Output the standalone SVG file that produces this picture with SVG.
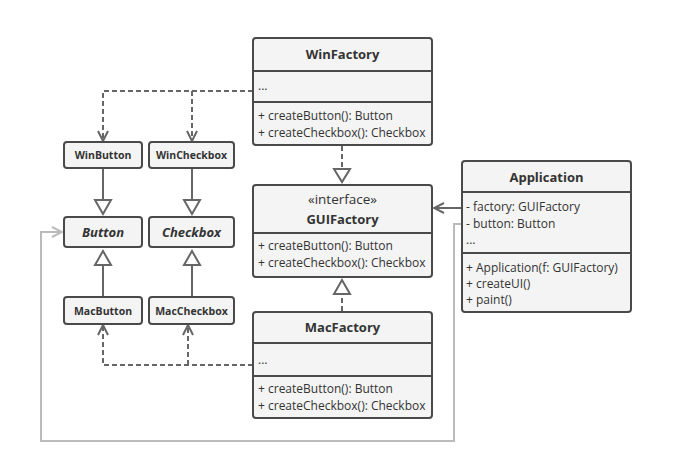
<svg xmlns="http://www.w3.org/2000/svg" width="675" height="465" viewBox="0 0 675 465">
  <style>
    .box { fill: #f4f4f4; stroke: #4a4a4a; stroke-width: 2; }
    .div { stroke: #4a4a4a; stroke-width: 2; }
    .t { font-family: "Open Sans", "Noto Sans", sans-serif; fill: #333; }
    .title { font-size: 13px; font-weight: bold; text-anchor: middle; }
    .small { font-size: 10.5px; font-weight: bold; text-anchor: middle; }
    .abs { font-size: 13px; font-weight: bold; font-style: italic; text-anchor: middle; }
    .m { font-size: 12px; }
    .st { font-size: 13.5px; text-anchor: middle; }
    .dash { fill: none; stroke: #666; stroke-width: 2; stroke-dasharray: 5 3; }
    .solid { fill: none; stroke: #666; stroke-width: 2; }
    .gray { fill: none; stroke: #bbb; stroke-width: 2; }
    .tri { fill: #fff; stroke: #666; stroke-width: 2; stroke-linejoin: miter; }
  </style>
  <defs>
    <marker id="open" viewBox="0 0 12 12" refX="11" refY="6" markerWidth="12" markerHeight="12" markerUnits="userSpaceOnUse" orient="auto">
      <path d="M1,1 L11,6 L1,11" fill="none" stroke="#666" stroke-width="2"/>
    </marker>
    <marker id="openGray" viewBox="0 0 12 12" refX="11" refY="6" markerWidth="12" markerHeight="12" markerUnits="userSpaceOnUse" orient="auto">
      <path d="M1,1 L11,6 L1,11" fill="none" stroke="#bbb" stroke-width="2"/>
    </marker>
  </defs>

  <rect width="675" height="465" fill="#fff"/>

  <!-- connectors -->
  <g id="connectors">
    <!-- WinFactory creates WinButton / WinCheckbox -->
    <path class="dash" d="M253,91 H103 V141" marker-end="url(#open)"/>
    <path class="dash" d="M192,91 V141" marker-end="url(#open)"/>
    <!-- MacFactory creates MacButton / MacCheckbox -->
    <path class="dash" d="M253,365 H103 V325" marker-end="url(#open)"/>
    <path class="dash" d="M188,365 V325" marker-end="url(#open)"/>
    <!-- product inheritance -->
    <path class="solid" d="M103,168 V200"/>
    <polygon class="tri" points="95,200 111,200 103,214"/>
    <path class="solid" d="M192,168 V200"/>
    <polygon class="tri" points="184,200 200,200 192,214"/>
    <path class="solid" d="M103,297 V265"/>
    <polygon class="tri" points="95,265 111,265 103,251"/>
    <path class="solid" d="M192,297 V265"/>
    <polygon class="tri" points="184,265 200,265 192,251"/>
    <!-- factory realization -->
    <path class="dash" d="M342,146 V169"/>
    <polygon class="tri" points="334,169 350,169 342,182"/>
    <path class="dash" d="M342,311 V294"/>
    <polygon class="tri" points="334,294 350,294 342,280"/>
    <!-- Application uses GUIFactory -->
    <path class="solid" d="M461,208 H434" marker-end="url(#open)"/>
    <!-- Application uses Button -->
    <path class="gray" d="M461,224 H454 V441 H41 V232 H62" marker-end="url(#openGray)"/>
  </g>

  <g id="WinFactory">
    <rect class="box" x="253" y="38" width="179" height="107" rx="3"/>
    <line class="div" x1="253" y1="71" x2="432" y2="71"/>
    <line class="div" x1="253" y1="102" x2="432" y2="102"/>
    <text class="t title" x="342.5" y="59">WinFactory</text>
    <text class="t m" x="258" y="90">...</text>
    <text class="t m" x="258" y="120">+ createButton(): Button</text>
    <text class="t m" x="258" y="137">+ createCheckbox(): Checkbox</text>
  </g>

  <g id="GUIFactory">
    <rect class="box" x="253" y="185" width="179" height="92" rx="3"/>
    <line class="div" x1="253" y1="233" x2="432" y2="233"/>
    <text class="t st" x="342.5" y="204">«interface»</text>
    <text class="t title" x="342.5" y="224">GUIFactory</text>
    <text class="t m" x="258" y="250">+ createButton(): Button</text>
    <text class="t m" x="258" y="267">+ createCheckbox(): Checkbox</text>
  </g>

  <g id="MacFactory">
    <rect class="box" x="253" y="312" width="179" height="106" rx="3"/>
    <line class="div" x1="253" y1="343" x2="432" y2="343"/>
    <line class="div" x1="253" y1="376" x2="432" y2="376"/>
    <text class="t title" x="342.5" y="332">MacFactory</text>
    <text class="t m" x="258" y="364">...</text>
    <text class="t m" x="258" y="393">+ createButton(): Button</text>
    <text class="t m" x="258" y="410">+ createCheckbox(): Checkbox</text>
  </g>

  <g id="Application">
    <rect class="box" x="462" y="161" width="169" height="151" rx="3"/>
    <line class="div" x1="462" y1="192" x2="631" y2="192"/>
    <line class="div" x1="462" y1="253" x2="631" y2="253"/>
    <text class="t title" x="546.5" y="182">Application</text>
    <text class="t m" x="466" y="211">- factory: GUIFactory</text>
    <text class="t m" x="466" y="228">- button: Button</text>
    <text class="t m" x="466" y="244">...</text>
    <text class="t m" x="466" y="272">+ Application(f: GUIFactory)</text>
    <text class="t m" x="466" y="288">+ createUI()</text>
    <text class="t m" x="466" y="304">+ paint()</text>
  </g>

  <g id="WinButton">
    <rect class="box" x="64" y="142" width="78" height="26" rx="3"/>
    <text class="t small" x="103" y="159">WinButton</text>
  </g>
  <g id="WinCheckbox">
    <rect class="box" x="149" y="142" width="85" height="26" rx="3"/>
    <text class="t small" x="191.5" y="159">WinCheckbox</text>
  </g>
  <g id="Button">
    <rect class="box" x="64" y="217" width="78" height="30" rx="3"/>
    <text class="t abs" x="103" y="236.5">Button</text>
  </g>
  <g id="Checkbox">
    <rect class="box" x="149" y="217" width="85" height="30" rx="3"/>
    <text class="t abs" x="191.5" y="236.5">Checkbox</text>
  </g>
  <g id="MacButton">
    <rect class="box" x="64" y="297" width="78" height="27" rx="3"/>
    <text class="t small" x="103" y="314.5">MacButton</text>
  </g>
  <g id="MacCheckbox">
    <rect class="box" x="149" y="297" width="85" height="27" rx="3"/>
    <text class="t small" x="191.5" y="314.5">MacCheckbox</text>
  </g>
</svg>
